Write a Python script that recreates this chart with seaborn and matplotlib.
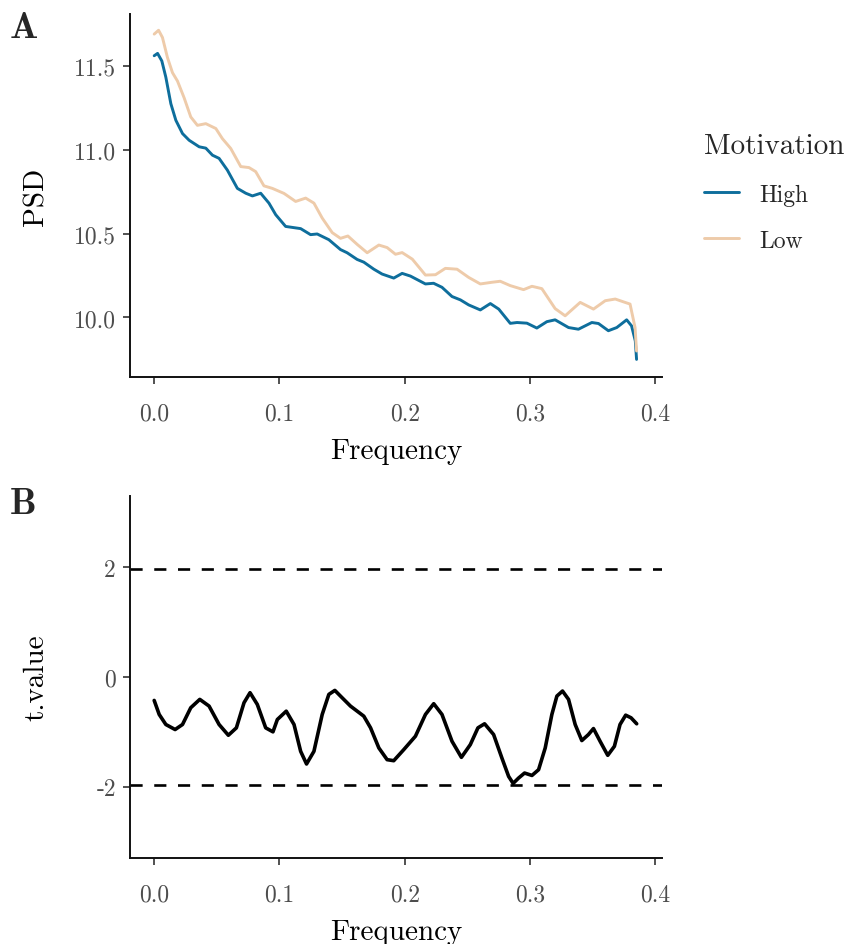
import numpy as np
import pandas as pd
import matplotlib
matplotlib.use("Agg")
import matplotlib.pyplot as plt
import seaborn as sns

# ---- data ----
freq_low = [0.0, 0.0035, 0.0066, 0.0106, 0.0146, 0.0186, 0.0239, 0.0292, 0.0345, 0.0412,
            0.0492, 0.0544, 0.0611, 0.0691, 0.0757, 0.081, 0.0876, 0.0943, 0.1036, 0.1129,
            0.1209, 0.1275, 0.1341, 0.1421, 0.1487, 0.1546, 0.162, 0.170, 0.1793, 0.1859,
            0.1926, 0.1979, 0.206, 0.2165, 0.2245, 0.2324, 0.2417, 0.251, 0.2603, 0.2696,
            0.2762, 0.2842, 0.2948, 0.3015, 0.3094, 0.320, 0.328, 0.340, 0.3506, 0.360,
            0.368, 0.3758, 0.3798, 0.3838, 0.385]
psd_low = [11.69, 11.713, 11.67, 11.55, 11.46, 11.41, 11.31, 11.196, 11.146, 11.156,
           11.127, 11.067, 11.008, 10.90, 10.894, 10.87, 10.785, 10.77, 10.74, 10.692,
           10.712, 10.682, 10.593, 10.506, 10.472, 10.486, 10.436, 10.386, 10.432, 10.417,
           10.377, 10.387, 10.348, 10.253, 10.255, 10.293, 10.288, 10.239, 10.20, 10.21,
           10.216, 10.19, 10.166, 10.186, 10.172, 10.053, 10.01, 10.09, 10.05, 10.10,
           10.11, 10.09, 10.08, 9.94, 9.80]

freq_high = [0.0, 0.0027, 0.0061, 0.0093, 0.0133, 0.0173, 0.0226, 0.0279, 0.0359, 0.0412,
             0.0465, 0.0518, 0.0584, 0.0664, 0.0731, 0.0784, 0.085, 0.0916, 0.097, 0.1049,
             0.1169, 0.1248, 0.1301, 0.1394, 0.1487, 0.154, 0.162, 0.1673, 0.1753, 0.1819,
             0.1912, 0.1979, 0.2045, 0.2165, 0.223, 0.2297, 0.2377, 0.2444, 0.251, 0.2603,
             0.2683, 0.275, 0.2842, 0.2896, 0.2975, 0.3054, 0.3134, 0.320, 0.3307, 0.3386,
             0.3493, 0.3546, 0.3625, 0.3692, 0.3771, 0.381, 0.384, 0.385]
psd_high = [11.561, 11.575, 11.53, 11.433, 11.275, 11.176, 11.097, 11.057, 11.018, 11.01,
            10.968, 10.949, 10.879, 10.77, 10.741, 10.725, 10.741, 10.682, 10.613, 10.543,
            10.53, 10.494, 10.498, 10.464, 10.405, 10.386, 10.346, 10.33, 10.288, 10.259,
            10.235, 10.263, 10.247, 10.20, 10.204, 10.18, 10.125, 10.105, 10.075, 10.045,
            10.083, 10.05, 9.965, 9.97, 9.966, 9.937, 9.975, 9.986, 9.94, 9.93,
            9.97, 9.964, 9.921, 9.94, 9.986, 9.95, 9.86, 9.75]

freq_t = [0.0, 0.004, 0.0093, 0.0167, 0.0226, 0.0292, 0.0364, 0.0438, 0.0518, 0.0592,
          0.0656, 0.0717, 0.0765, 0.0823, 0.089, 0.0948, 0.0983, 0.1054, 0.1116, 0.1169,
          0.1216, 0.1275, 0.1341, 0.1394, 0.1442, 0.150, 0.1567, 0.1673, 0.1727, 0.1793,
          0.1859, 0.1912, 0.1992, 0.2085, 0.2165, 0.2231, 0.2297, 0.2377, 0.2452, 0.2523,
          0.2584, 0.2637, 0.2709, 0.2775, 0.2829, 0.2865, 0.2908, 0.2956, 0.3015, 0.3068,
          0.3121, 0.3174, 0.3214, 0.3259, 0.3307, 0.336, 0.3413, 0.3466, 0.3506, 0.3559,
          0.362, 0.3673, 0.3718, 0.3763, 0.3806, 0.3851]
t_value = [-0.427, -0.683, -0.866, -0.958, -0.866, -0.56, -0.408, -0.53, -0.866, -1.062,
           -0.927, -0.469, -0.286, -0.50, -0.927, -1.0, -0.775, -0.623, -0.866, -1.355,
           -1.586, -1.355, -0.683, -0.317, -0.244, -0.378, -0.531, -0.714, -0.927, -1.293,
           -1.507, -1.526, -1.324, -1.08, -0.683, -0.487, -0.683, -1.172, -1.465, -1.233,
           -0.927, -0.853, -1.049, -1.476, -1.813, -1.94, -1.843, -1.751, -1.795, -1.69,
           -1.293, -0.683, -0.348, -0.256, -0.408, -0.866, -1.159, -1.049, -0.94, -1.172,
           -1.428, -1.264, -0.866, -0.696, -0.744, -0.853]

groups = ["High", "Low"]
palette = {"High": "#0E6E9C", "Low": "#EECBAA"}
x_ticks = [0.0, 0.1, 0.2, 0.3, 0.4]
x_ticklabels = ["0.0", "0.1", "0.2", "0.3", "0.4"]
psd_ticks = [10.0, 10.5, 11.0, 11.5]
psd_ticklabels = ["10.0", "10.5", "11.0", "11.5"]
t_ticks = [-2, 0, 2]
t_ticklabels = ["-2", "0", "2"]
thresholds = [-1.97, 1.97]

df_psd = pd.concat([
    pd.DataFrame({"Frequency": freq_high, "PSD": psd_high, "Motivation": "High"}),
    pd.DataFrame({"Frequency": freq_low, "PSD": psd_low, "Motivation": "Low"}),
], ignore_index=True)
df_t = pd.DataFrame({"Frequency": freq_t, "t.value": t_value})

sns.set_theme(style="ticks")
plt.rcParams["font.family"] = ["cmr10", "DejaVu Serif"]
plt.rcParams["axes.unicode_minus"] = False
plt.rcParams["axes.formatter.use_mathtext"] = True

fig = plt.figure(figsize=(8.49, 9.45), dpi=100)
W, H = 849, 945
axA = fig.add_axes([130 / W, 1 - 378 / H, (662 - 130) / W, (378 - 15) / H])
axB = fig.add_axes([130 / W, 1 - 859 / H, (662 - 130) / W, (859 - 497) / H])

sns.lineplot(data=df_psd, x="Frequency", y="PSD", hue="Motivation", hue_order=groups,
             palette=palette, ax=axA, linewidth=2.1, estimator=None, sort=False)
sns.lineplot(data=df_t, x="Frequency", y="t.value", ax=axB, color="black",
             linewidth=2.6, estimator=None, sort=False)
for th in thresholds:
    axB.axhline(th, color="black", linestyle=(0, (4.6, 4.4)), linewidth=1.9)

for ax in (axA, axB):
    ax.set_xlim(-0.0193, 0.4053)
    ax.set_xticks(x_ticks)
    ax.set_xticklabels(x_ticklabels)
    for s in ("top", "right"):
        ax.spines[s].set_visible(False)
    for s in ("left", "bottom"):
        ax.spines[s].set_linewidth(1.4)
        ax.spines[s].set_color("#111111")
    ax.tick_params(axis="both", length=5, width=1.2, color="#333333",
                   labelcolor="#4D4D4D", labelsize=17)
    ax.tick_params(axis="x", pad=13)
    ax.tick_params(axis="y", pad=5)
    ax.set_xlabel("Frequency", fontsize=21, color="black", labelpad=10)
    ax.yaxis.set_label_coords(-0.152, 0.5)

axA.set_ylim(9.645, 11.81)
axA.set_yticks(psd_ticks)
axA.set_yticklabels(psd_ticklabels)
axA.set_ylabel("PSD", fontsize=21, color="black")

axB.set_ylim(-3.3, 3.3)
axB.set_yticks(t_ticks)
axB.set_yticklabels(t_ticklabels)
axB.set_ylabel("t.value", fontsize=21, color="black")

leg = axA.legend(title="Motivation", loc="upper left",
                 bbox_to_anchor=(704 / W, 1 - 134 / H), bbox_transform=fig.transFigure,
                 frameon=False, fontsize=17, title_fontsize=21, handlelength=1.5,
                 labelspacing=1.02, handletextpad=0.85, borderaxespad=0, borderpad=0)
leg._legend_box.align = "left"
for line in leg.get_lines():
    line.set_linewidth(2.1)

fig.text(10 / W, 1 - 28 / H, "A", fontsize=27, fontweight="bold",
         family=["cmb10", "DejaVu Serif"], va="center", ha="left")
fig.text(10 / W, 1 - 505 / H, "B", fontsize=27, fontweight="bold",
         family=["cmb10", "DejaVu Serif"], va="center", ha="left")

fig.savefig("out.png", dpi=100)
